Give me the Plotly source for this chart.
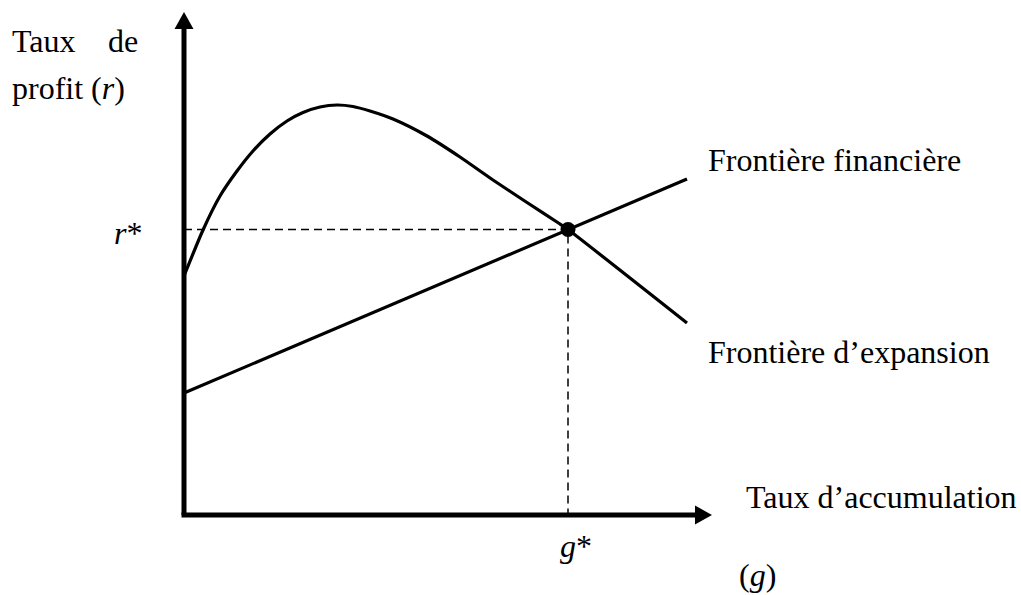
import plotly.graph_objects as go

# ---- data (g = taux d'accumulation, r = taux de profit), arbitrary units ----
expansion_g = [0.0, 0.38, 0.72, 1.06, 1.38, 1.72, 2.06, 2.38, 2.72, 3.06, 3.38, 3.72,
               4.18, 4.86, 5.52, 6.18, 6.86, 7.52, 7.68, 10.06]
expansion_r = [4.78, 5.70, 6.38, 6.88, 7.28, 7.62, 7.88, 8.05, 8.16, 8.20, 8.17, 8.08,
               7.92, 7.58, 7.16, 6.70, 6.25, 5.82, 5.71, 3.84]
financial_g = [0.0, 10.06]
financial_r = [2.44, 6.72]
g_star = 7.68
r_star = 5.71
g_axis_max = 10.56
r_axis_max = 10.06

FONT = "Liberation Serif, Times New Roman, serif"
W, H = 1021, 595
X0, Y0, S = 184, 515, 50.0  # origin pixel and pixels per unit


def gx(px):
    return (px - X0) / S


def ry(py):
    return (Y0 - py) / S


fig = go.Figure()

# dashed guide lines
fig.add_trace(go.Scatter(x=[0, g_star, g_star], y=[r_star, r_star, 0], mode="lines",
                         line=dict(color="black", width=1.5, dash="8px,5px"),
                         hoverinfo="skip", showlegend=False))
# frontière financière
fig.add_trace(go.Scatter(x=financial_g, y=financial_r, mode="lines",
                         line=dict(color="black", width=3.2),
                         hoverinfo="skip", showlegend=False))
# frontière d'expansion
fig.add_trace(go.Scatter(x=expansion_g, y=expansion_r, mode="lines",
                         line=dict(color="black", width=3.2, shape="spline", smoothing=0.6),
                         hoverinfo="skip", showlegend=False))
# equilibrium point
fig.add_trace(go.Scatter(x=[g_star], y=[r_star], mode="markers",
                         marker=dict(color="black", size=15),
                         hoverinfo="skip", showlegend=False))

# axes with arrowheads
head_len = 0.34
head_half = 0.19
shapes = [
    dict(type="line", x0=0, y0=0, x1=0, y1=r_axis_max - head_len + 0.02,
         line=dict(color="black", width=5), layer="above"),
    dict(type="line", x0=-0.05, y0=0, x1=g_axis_max - head_len + 0.02, y1=0,
         line=dict(color="black", width=5), layer="above"),
    dict(type="path",
         path=f"M {-head_half} {r_axis_max - head_len} L {head_half} {r_axis_max - head_len} L 0 {r_axis_max} Z",
         fillcolor="black", line=dict(color="black", width=0), layer="above"),
    dict(type="path",
         path=f"M {g_axis_max - head_len} {-head_half} L {g_axis_max - head_len} {head_half} L {g_axis_max} 0 Z",
         fillcolor="black", line=dict(color="black", width=0), layer="above"),
]

FS = 32


def txt(text, px, py, xanchor="left"):
    return dict(x=gx(px), y=ry(py), text=text, showarrow=False, xanchor=xanchor,
                yanchor="middle", font=dict(family=FONT, size=FS, color="black"))


annotations = [
    txt("Taux", 10, 41),
    txt("de", 140, 41, xanchor="right"),
    txt("profit (<i>r</i>)", 10, 88),
    txt("<i>r</i>*", 112, 233),
    txt("Frontière financière", 706, 160),
    txt("Frontière d’expansion", 706, 352),
    txt("Taux d’accumulation", 744, 497),
    txt("(<i>g</i>)", 737, 575),
    txt("<i>g</i>*", 558, 546),
]

fig.update_layout(
    width=W, height=H,
    margin=dict(l=0, r=0, t=0, b=0),
    paper_bgcolor="white", plot_bgcolor="white",
    xaxis=dict(range=[gx(0), gx(W)], visible=False, fixedrange=True),
    yaxis=dict(range=[ry(H), ry(0)], visible=False, fixedrange=True),
    shapes=shapes,
    annotations=annotations,
    showlegend=False,
)

fig.write_html(
    "out.html",
    config={"displayModeBar": False},
    post_script="document.body.style.margin='0px';document.body.style.overflow='hidden';",
)
